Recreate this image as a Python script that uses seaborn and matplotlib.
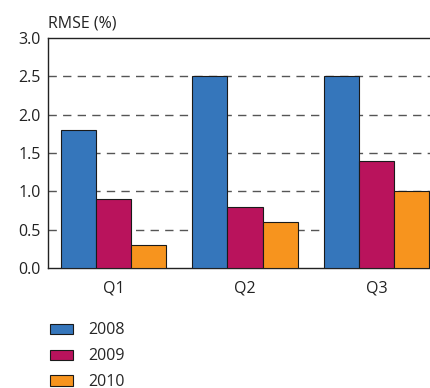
import matplotlib

matplotlib.use("Agg")

import matplotlib.pyplot as plt
import pandas as pd
import seaborn as sns

quarters = ["Q1", "Q2", "Q3"]
years = ["2008", "2009", "2010"]
rmse_2008 = [1.8, 2.5, 2.5]
rmse_2009 = [0.9, 0.8, 1.4]
rmse_2010 = [0.3, 0.6, 1.0]
yticks = [0.0, 0.5, 1.0, 1.5, 2.0, 2.5, 3.0]

colors = ["#3576BB", "#B9135C", "#F7941E"]
FS = 11.5


def main() -> None:
    rows = []
    for year, values in zip(years, [rmse_2008, rmse_2009, rmse_2010]):
        for q, v in zip(quarters, values):
            rows.append({"quarter": q, "year": year, "rmse": v})
    df = pd.DataFrame(rows)

    sns.set_style("white")
    plt.rcParams["font.family"] = ["Open Sans", "DejaVu Sans"]
    plt.rcParams["font.size"] = FS

    fig = plt.figure(figsize=(4.31, 3.88), dpi=100)
    ax = fig.add_axes([48 / 431, 1 - 268 / 388, 394 / 431, 230 / 388])

    sns.barplot(
        data=df, x="quarter", y="rmse", hue="year", order=quarters, hue_order=years,
        palette=colors, width=0.8, edgecolor="#1a1a1a", linewidth=0.8,
        saturation=1, ax=ax, zorder=3,
    )

    ax.set_xlim(-0.5, 2.5)
    ax.set_ylim(0, 3.0)
    ax.set_yticks(yticks)
    ax.set_yticklabels([f"{t:.1f}" for t in yticks], fontsize=FS, color="#222222")
    for t in yticks[1:-1]:
        ax.axhline(t, color="#555555", linestyle=(0, (6, 4.5)), linewidth=1.0, zorder=1)

    ax.set_xticks([0, 1, 2])
    ax.set_xticklabels(quarters, fontsize=FS, color="#222222")
    ax.set_xticks([-0.5, 0.5, 1.5], minor=True)
    ax.tick_params(axis="x", which="major", length=0, pad=9)
    ax.tick_params(axis="x", which="minor", length=5, width=1, direction="out", color="#333333")
    ax.tick_params(axis="y", length=0, pad=5)
    ax.set_xlabel("")
    ax.set_ylabel("")

    for side in ["left", "bottom", "top"]:
        ax.spines[side].set_visible(True)
        ax.spines[side].set_color("#222222")
        ax.spines[side].set_linewidth(1.0)
    ax.spines["right"].set_visible(False)

    fig.text(48 / 431, 1 - 23 / 388, "RMSE (%)", fontsize=FS, color="#222222",
             ha="left", va="center")

    handles, labels = ax.get_legend_handles_labels()
    ax.legend_.remove()
    fig.legend(
        handles, labels, loc="upper left", bbox_to_anchor=(44 / 431, 1 - 316 / 388),
        frameon=False, fontsize=FS, handlelength=1.4, handleheight=0.6,
        handletextpad=0.95, labelspacing=0.62, borderaxespad=0,
    )

    fig.savefig("out.png", dpi=100)


if __name__ == "__main__":
    main()
